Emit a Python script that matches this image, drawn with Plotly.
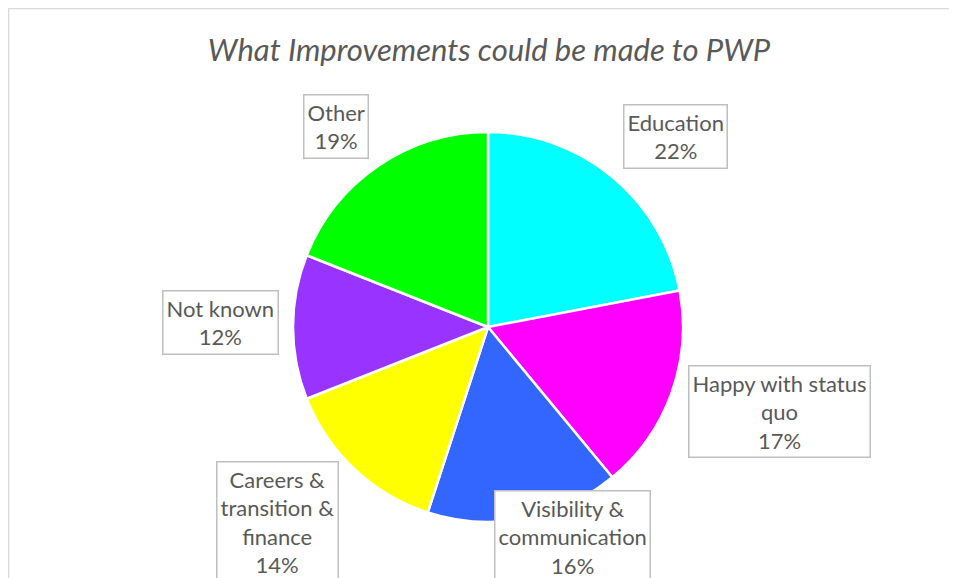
import plotly.graph_objects as go

# data (clockwise from 12 o'clock)
categories = ['Education', 'Happy with status quo', 'Visibility & communication',
              'Careers & transition & finance', 'Not known', 'Other']
percent = [22, 17, 16, 14, 12, 19]
colours = ['#00FFFF', '#FF00FF', '#3366FF', '#FFFF00', '#9933FF', '#00FF00']

# label text broken the way the reference wraps it
label_lines = [
    ['Education'],
    ['Happy with status', 'quo'],
    ['Visibility &', 'communication'],
    ['Careers &', 'transition &', 'finance'],
    ['Not known'],
    ['Other'],
]

# page has an 8px body margin, so the figure starts at (8, 8)
OFF = 8
W, H = 957 - OFF, 578 - OFF
# top-centre of each label box, in page pixels
label_pos = [(675, 104), (779, 365), (572, 490), (277, 461), (220, 290), (336, 94)]

cx, cy, r = 488 - OFF, 327 - OFF, 195

fig = go.Figure()
fig.add_trace(go.Pie(
    labels=categories,
    values=percent,
    sort=False,
    direction='clockwise',
    rotation=0,
    textinfo='none',
    hoverinfo='label+percent',
    marker=dict(colors=colours, line=dict(color='white', width=2.5)),
    domain=dict(x=[(cx - r) / W, (cx + r) / W], y=[1 - (cy + r) / H, 1 - (cy - r) / H]),
    showlegend=False,
))

for lines, pct, (px, py) in zip(label_lines, percent, label_pos):
    fig.add_annotation(
        text='<br>'.join(lines + [f'{pct}%']),
        xref='paper', yref='paper',
        x=(px - OFF) / W, y=1 - (py - OFF) / H,
        xanchor='center', yanchor='top',
        showarrow=False,
        font=dict(family='Lato', size=22, color='#595959'),
        bordercolor='#BFBFBF', borderwidth=1.5, borderpad=3,
        bgcolor='white', align='center',
    )

# chart frame (runs off the right and bottom of the picture)
fig.add_shape(type='line', xref='paper', yref='paper',
              x0=0, x1=1.01, y0=1 - 0.5 / H, y1=1 - 0.5 / H,
              line=dict(color='#D9D9D9', width=1.5))
fig.add_shape(type='line', xref='paper', yref='paper',
              x0=0.5 / W, x1=0.5 / W, y0=-0.01, y1=1,
              line=dict(color='#D9D9D9', width=1.5))

fig.update_layout(
    width=W, height=H,
    margin=dict(l=0, r=0, t=0, b=0),
    paper_bgcolor='white',
    title=dict(text='<i>What Improvements could be made to PWP</i>',
               x=(489 - OFF) / W, xanchor='center', y=1 - (50 - OFF) / H, yanchor='middle',
               font=dict(family='Lato', size=31, color='#595959')),
)

fig.write_html('out.html')
